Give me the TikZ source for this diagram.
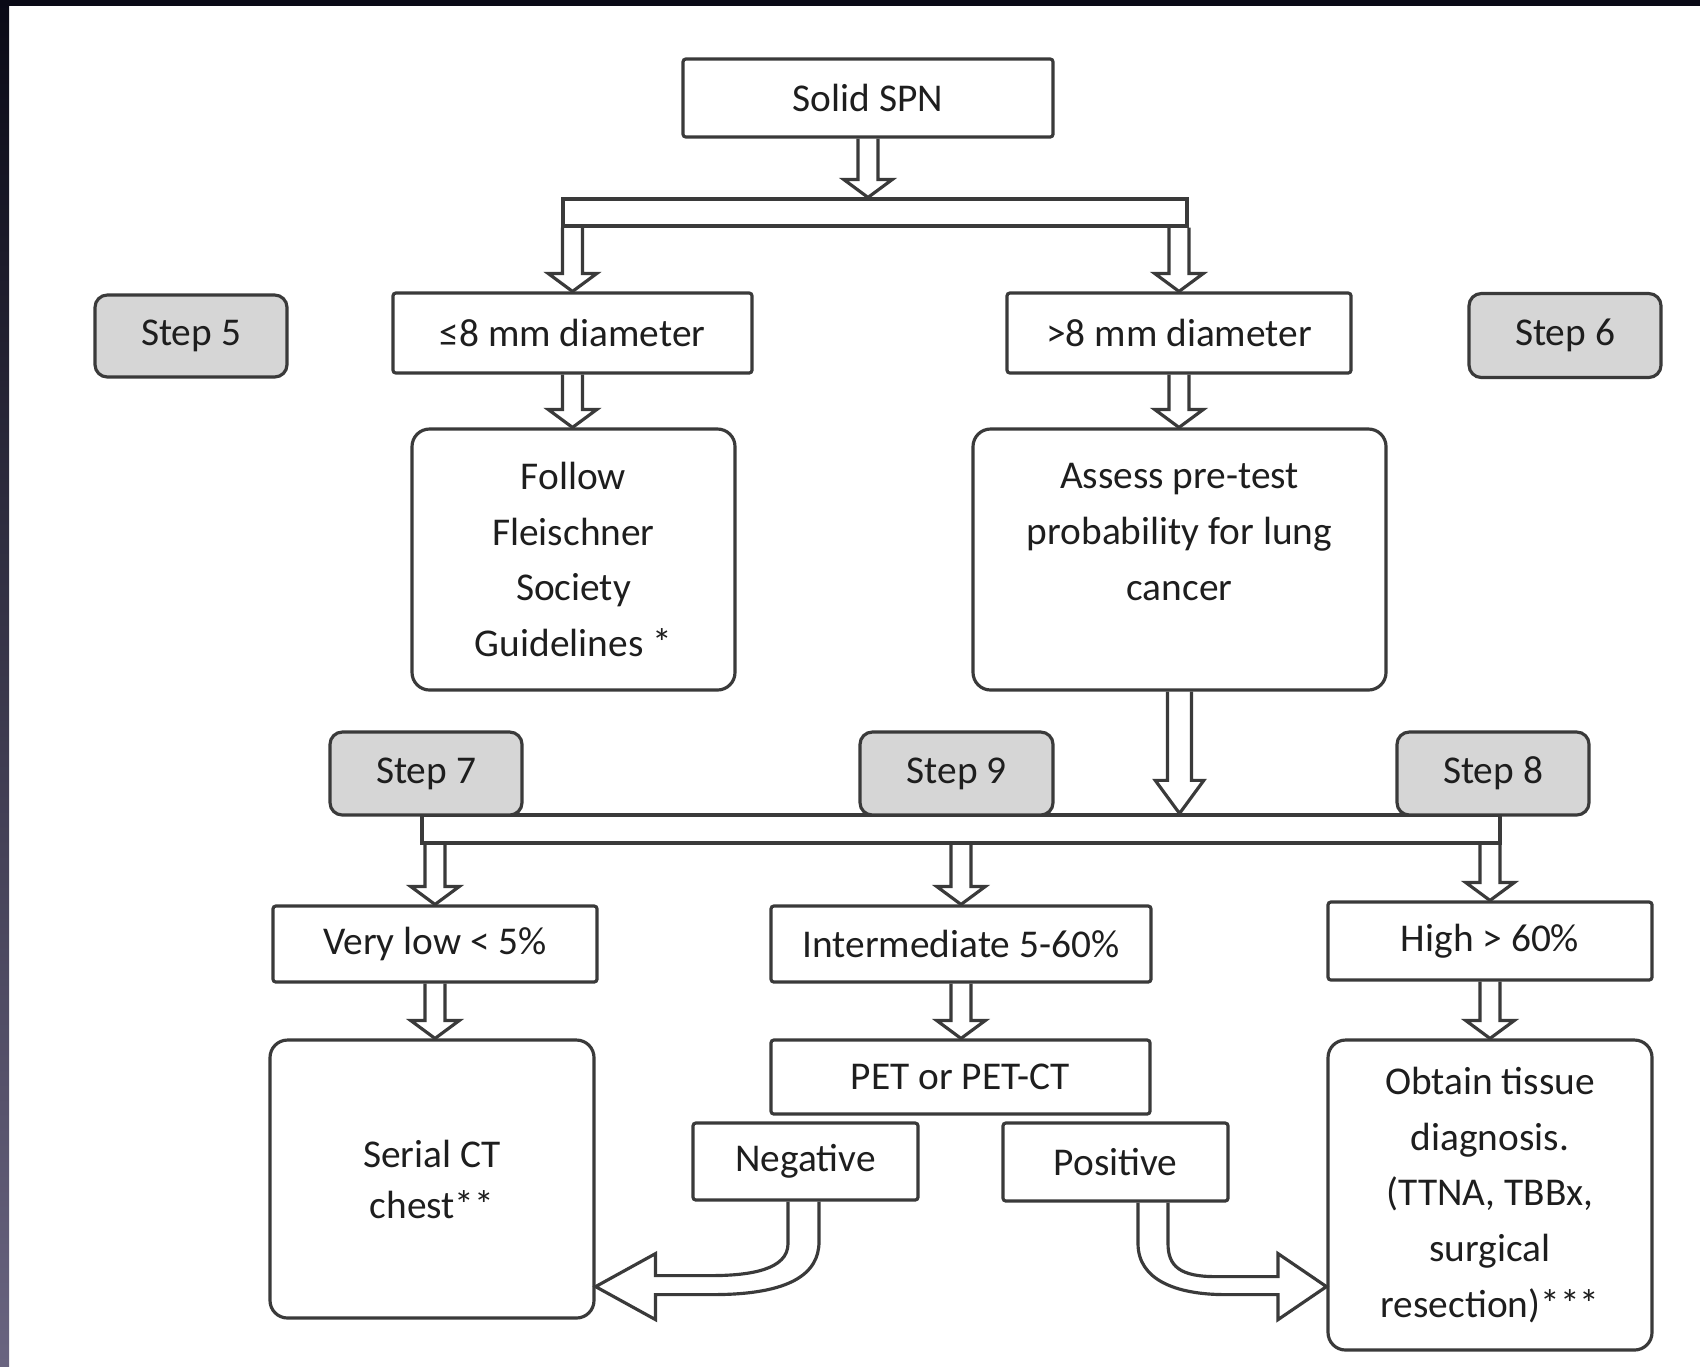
\documentclass[tikz,border=0pt]{standalone}
\usepackage{fontspec}
\setmainfont{Carlito}
\usetikzlibrary{calc}
\definecolor{lc}{RGB}{58,58,58}
\definecolor{tc}{RGB}{30,30,30}
\definecolor{stepgray}{RGB}{214,214,214}
\definecolor{framedark}{RGB}{10,10,22}
\definecolor{framegray}{RGB}{105,100,128}
\newcommand\mainsz{\fontsize{11.2}{15.9}\selectfont}
\def\bsw{2.85pt}
\def\bhw{6.9pt}
\def\bhl{5.1pt}
\newcommand\blkdown[2]{%
  \draw[blk] let \p1=#1, \p2=#2 in
   (\x1-\bsw,\y1) -- (\x1-\bsw,\y2+\bhl) -- (\x1-\bhw,\y2+\bhl) -- (\x1,\y2)
   -- (\x1+\bhw,\y2+\bhl) -- (\x1+\bsw,\y2+\bhl) -- (\x1+\bsw,\y1);
}
\tikzset{
  box/.style={draw=lc, line width=0.9pt, rounded corners=0.8pt, fill=white, text=tc,
    align=center, inner sep=0pt, font=\mainsz},
  stepbox/.style={box, fill=stepgray, rounded corners=3.5pt},
  bigbox/.style={box, rounded corners=5pt},
  barbox/.style={draw=lc, line width=0.9pt, fill=white, inner sep=0pt},
  blk/.style={draw=lc, line width=0.9pt, line join=miter},
}
\begin{document}
\begin{tikzpicture}[x=0.1mm,y=-0.1mm]
\useasboundingbox (0,0) rectangle (1700,1366);
\fill[white] (0,0) rectangle (1700,1366);
\shade[top color=framedark, bottom color=framegray] (0,0) rectangle (9,1366);
\fill[framedark] (0,0) rectangle (1700,6);

% boxes
\node[box, minimum width=37mm, minimum height=7.8mm] (solid) at (868,98) {Solid SPN};
\node[barbox, minimum width=62.4mm, minimum height=2.7mm] (bar1) at (875,212.5) {};
\node[box, minimum width=35.9mm, minimum height=8mm] (le8) at (572.5,333) {≤8 mm diameter};
\node[box, minimum width=34.4mm, minimum height=8mm] (gt8) at (1179,333) {>8 mm diameter};
\node[stepbox, minimum width=19.2mm, minimum height=8.2mm] (s5) at (191,336) {Step 5};
\node[stepbox, minimum width=19.2mm, minimum height=8.4mm] (s6) at (1565,335.5) {Step 6};
\node[bigbox, minimum width=32.3mm, minimum height=26.1mm] (follow) at (573.5,559.5)
  {Follow\\Fleischner\\Society\\Guidelines *};
\node[bigbox, minimum width=41.3mm, minimum height=26.1mm] (assess) at (1179.5,559.5)
  {Assess pre-test\\probability for lung\\cancer\\\mbox{}};
\node[barbox, minimum width=107.8mm, minimum height=2.8mm] (bar2) at (961,829) {};
\node[stepbox, minimum width=19.2mm, minimum height=8.3mm] (s7) at (426,773.5) {Step 7};
\node[stepbox, minimum width=19.3mm, minimum height=8.3mm] (s9) at (956.5,773.5) {Step 9};
\node[stepbox, minimum width=19.2mm, minimum height=8.3mm] (s8) at (1493,773.5) {Step 8};
\node[box, minimum width=32.4mm, minimum height=7.6mm] (verylow) at (435,944) {Very low < 5\%};
\node[box, minimum width=38mm, minimum height=7.6mm] (inter) at (961,944) {Intermediate 5-60\%};
\node[box, minimum width=32.4mm, minimum height=7.8mm] (high) at (1490,941) {High > 60\%};
\node[bigbox, minimum width=32.4mm, minimum height=27.8mm, font=\fontsize{11.2}{14.5}\selectfont]
  (serial) at (432,1179) {Serial CT\\chest**};
\node[box, minimum width=37.9mm, minimum height=7.4mm] (pet) at (960.5,1077) {PET or PET-CT};
\node[box, minimum width=22.5mm, minimum height=7.7mm] (neg) at (805.5,1161.5) {Negative};
\node[box, minimum width=22.5mm, minimum height=7.8mm] (pos) at (1115.5,1162) {Positive};
\node[bigbox, minimum width=32.4mm, minimum height=31mm] (obtain) at (1490,1195)
  {Obtain tissue\\diagnosis.\\(TTNA, TBBx,\\surgical\\resection)***};

% straight block arrows
\blkdown{(solid.south)}{(solid.south |- bar1.north)}
\blkdown{(le8.north |- bar1.south)}{(le8.north)}
\blkdown{(gt8.north |- bar1.south)}{(gt8.north)}
\blkdown{(le8.south)}{(le8.south |- follow.north)}
\blkdown{(gt8.south)}{(gt8.south |- assess.north)}
{\def\bsw{3.4pt}\def\bhl{9.4pt}
 \blkdown{(assess.south)}{(assess.south |- bar2.north)}}
\blkdown{(verylow.north |- bar2.south)}{(verylow.north)}
\blkdown{(inter.north |- bar2.south)}{(inter.north)}
\blkdown{(high.north |- bar2.south)}{(high.north)}
\blkdown{(verylow.south)}{(verylow.south |- serial.north)}
\blkdown{(inter.south)}{(inter.south |- pet.north)}
\blkdown{(high.south)}{(high.south |- obtain.north)}

% curved block arrows
\coordinate (tipNeg) at ($(serial.south east)+(0,-33)$);
\coordinate (tipPos) at ($(obtain.south west)+(0,-65)$);
\begin{scope}[shift={(neg.south)}]
\draw[blk] (-17.5,0) -- (-17.5,42) .. controls (-17.5,68) and (-55,74) .. (-95,74)
  -- (-150,74) -- (-150,52) -- (tipNeg) -- (-150,118) -- (-150,93) -- (-93,93)
  .. controls (-15,93) and (13.5,72) .. (13.5,40) -- (13.5,0);
\end{scope}
\begin{scope}[shift={(pos.south)}]
\draw[blk] (22.5,0) -- (22.5,41) .. controls (22.5,77) and (60,92) .. (110,92)
  -- (162.5,92) -- (162.5,117) -- (tipPos) -- (162.5,51) -- (162.5,74) -- (100,74)
  .. controls (65,74) and (52.5,64) .. (52.5,41) -- (52.5,0);
\end{scope}
\end{tikzpicture}
\end{document}
